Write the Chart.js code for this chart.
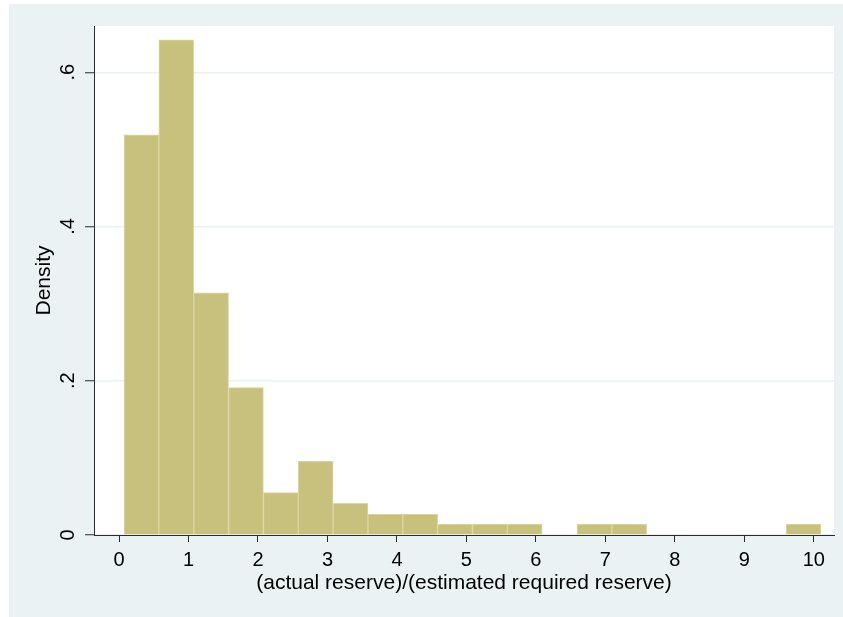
<!DOCTYPE html>
<html>
<head>
<meta charset="utf-8">
<script src="https://cdn.jsdelivr.net/npm/chart.js@4"></script>
<style>
  html, body { margin: 0; padding: 0; background: #ffffff; }
  #frame {
    position: absolute; left: 9px; top: 4px;
    width: 834px; height: 613px;
    background: #eaf2f3;
  }
  canvas { display: block; }
</style>
</head>
<body>
<div id="frame"><canvas id="hist" width="834" height="613"></canvas></div>
<script>
// Histogram of (actual reserve)/(estimated required reserve): 20 equal-width bins
const binStart = 0.072;
const binWidth = 0.5015;
const densities = [0.519, 0.642, 0.314, 0.191, 0.055, 0.096, 0.041, 0.027, 0.027, 0.014,
                   0.014, 0.014, null, 0.014, 0.014, null, null, null, null, 0.014];
const xTickValues = [0, 1, 2, 3, 4, 5, 6, 7, 8, 9, 10];
const xTickLabels = ['0', '1', '2', '3', '4', '5', '6', '7', '8', '9', '10'];
const yTickValues = [0, 0.2, 0.4, 0.6];
const yTickLabels = ['0', '.2', '.4', '.6'];
const xTitle = '(actual reserve)/(estimated required reserve)';
const yTitle = 'Density';

const points = densities.map((d, i) => ({ x: binStart + (i + 0.5) * binWidth, y: d }));

const plotBackground = {
  id: 'plotBackground',
  beforeDraw(chart) {
    const { ctx, chartArea: a } = chart;
    ctx.save();
    ctx.fillStyle = '#ffffff';
    ctx.fillRect(a.left, a.top, a.right - a.left, a.bottom - a.top);
    ctx.restore();
  }
};

const axisInk = '#2b2b2b';
const fontFamily = '"Liberation Sans", Arial, sans-serif';

new Chart(document.getElementById('hist'), {
  type: 'bar',
  data: {
    datasets: [{
      data: points,
      backgroundColor: 'rgb(200,193,126)',
      borderColor: 'rgb(222,216,164)',
      borderWidth: 1,
      barPercentage: 1,
      categoryPercentage: 1
    }]
  },
  options: {
    responsive: false,
    animation: false,
    events: [],
    layout: { padding: { left: 0, top: 22, right: 9, bottom: 0 } },
    plugins: { legend: { display: false }, tooltip: { enabled: false } },
    scales: {
      x: {
        type: 'linear',
        offset: false,
        min: -0.36,
        max: 10.29,
        afterBuildTicks(scale) {
          scale.ticks = xTickValues.map(v => ({ value: v }));
        },
        afterFit(scale) { scale.height = 82; },
        ticks: {
          color: '#000000',
          font: { family: fontFamily, size: 20 },
          padding: 6,
          maxRotation: 0,
          autoSkip: false,
          callback: (v, i) => xTickLabels[i]
        },
        grid: {
          offset: false,
          drawOnChartArea: false,
          drawTicks: true,
          tickLength: 7,
          tickColor: axisInk,
          tickWidth: 1
        },
        border: { display: true, color: axisInk, width: 1 },
        title: {
          display: true,
          text: xTitle,
          color: '#000000',
          font: { family: fontFamily, size: 21 },
          padding: { top: 0, bottom: 21 }
        }
      },
      y: {
        type: 'linear',
        min: 0,
        max: 0.66,
        afterBuildTicks(scale) {
          scale.ticks = yTickValues.map(v => ({ value: v }));
        },
        afterFit(scale) { scale.width = 85; },
        ticks: {
          color: '#000000',
          font: { family: fontFamily, size: 20 },
          padding: 8,
          minRotation: 90,
          maxRotation: 90,
          crossAlign: 'center',
          autoSkip: false,
          callback: (v, i) => yTickLabels[i]
        },
        grid: {
          color: '#eaf2f3',
          lineWidth: 1.5,
          drawTicks: true,
          tickLength: 9,
          tickColor: axisInk,
          tickWidth: 1
        },
        border: { display: true, color: axisInk, width: 1 },
        title: {
          display: true,
          text: yTitle,
          color: '#000000',
          font: { family: fontFamily, size: 21 },
          padding: { top: 23, bottom: 0 }
        }
      }
    }
  },
  plugins: [plotBackground]
});
</script>
</body>
</html>
